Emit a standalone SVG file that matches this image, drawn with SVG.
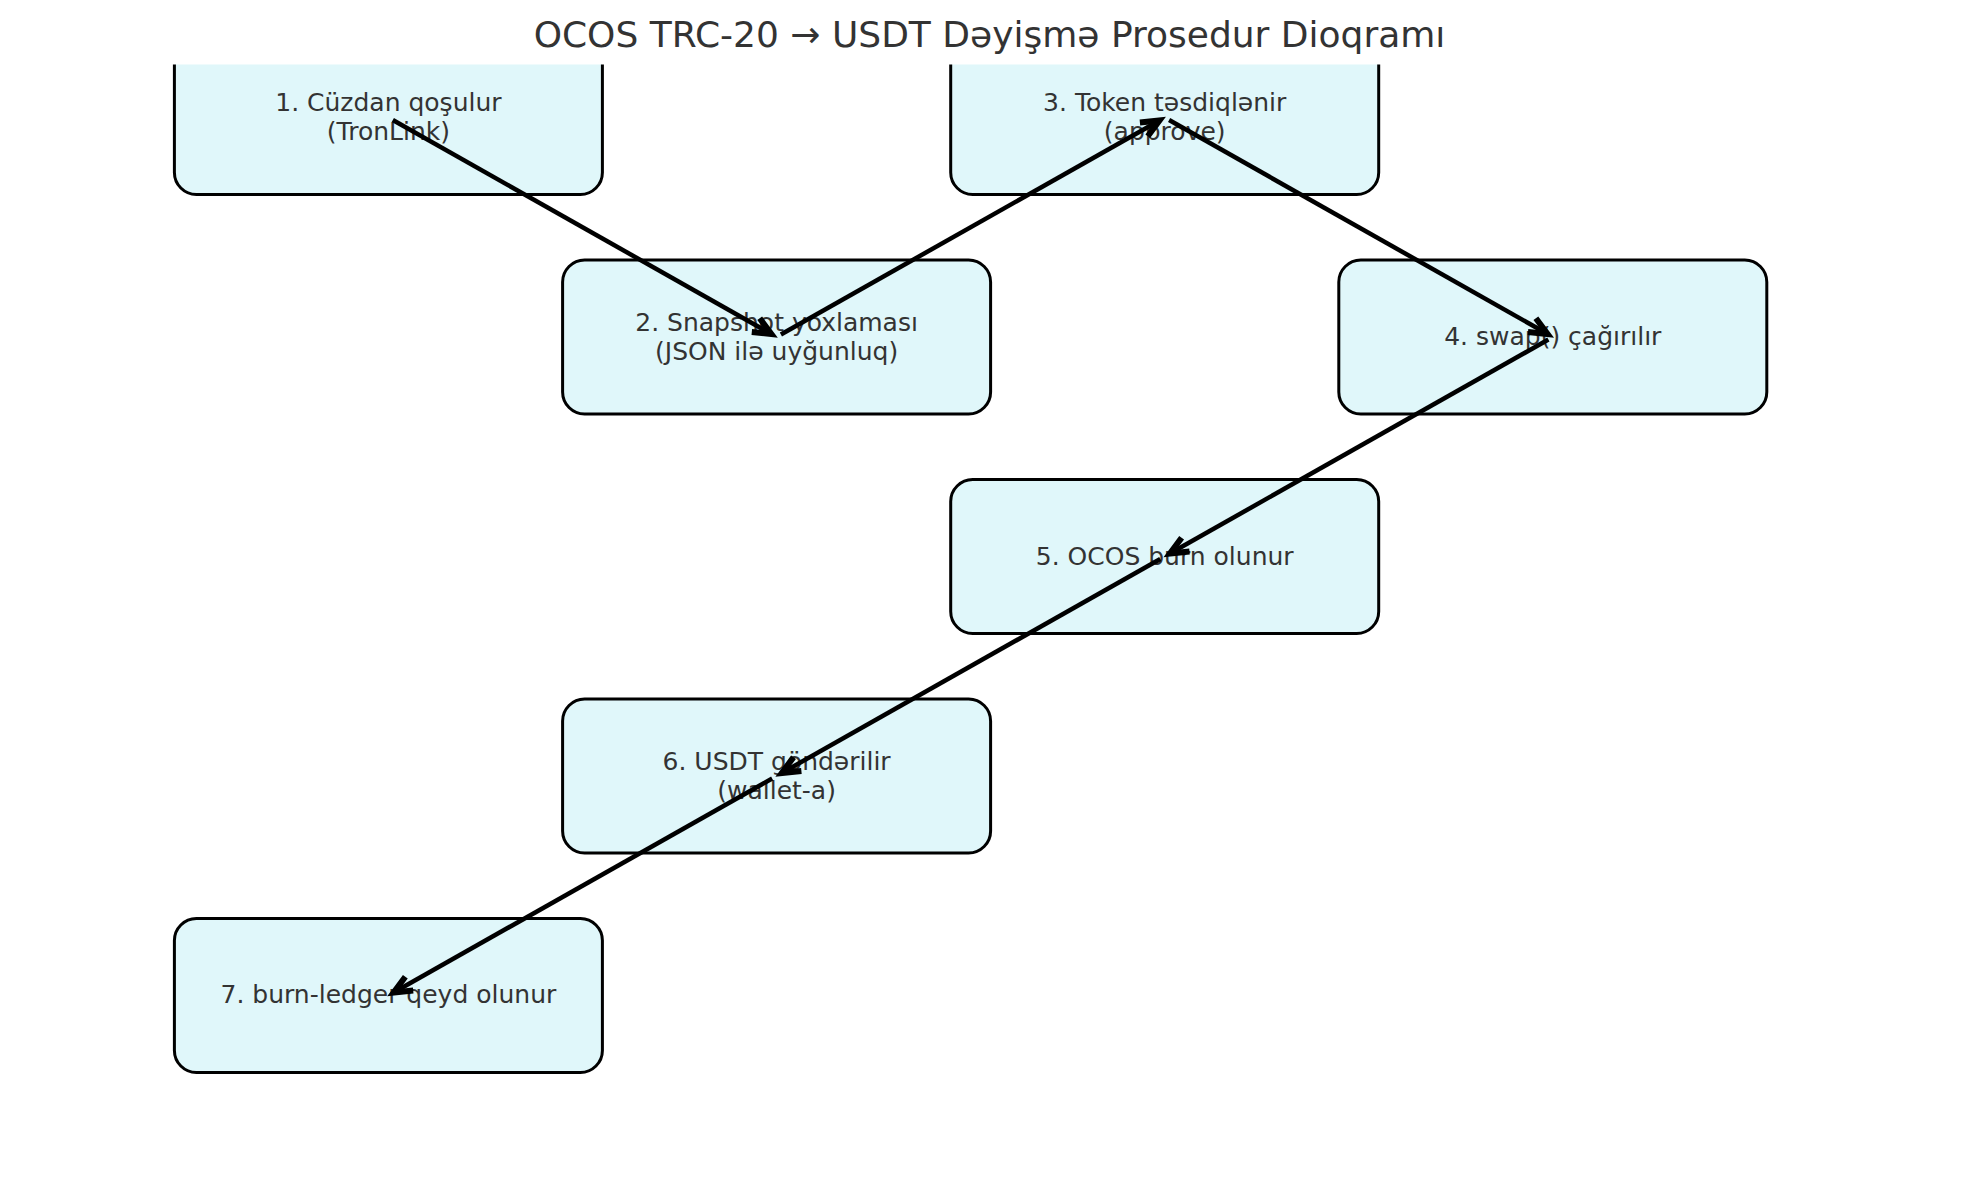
<svg xmlns="http://www.w3.org/2000/svg" width="1979" height="1180" viewBox="0 0 1979 1180">
<style>
.box{fill:#e0f7fa;stroke:#000;stroke-width:3}
.lbl{font-family:"DejaVu Sans","Noto Sans",sans-serif;font-size:25px;fill:#333;text-anchor:middle}
.title{font-family:"DejaVu Sans","Noto Sans",sans-serif;font-size:36px;fill:#333;text-anchor:middle}
.conn{stroke:#000;stroke-width:4.5;fill:none;marker-end:url(#ah)}
</style>
<defs>
<clipPath id="ax"><rect x="0" y="64.5" width="1979" height="1116"/></clipPath>
<marker id="ah" markerUnits="userSpaceOnUse" orient="auto" refX="0" refY="0" markerWidth="40" markerHeight="40" viewBox="-25 -15 30 30" overflow="visible">
<path d="M-13.5,-6 L0,0 L-13.5,6" fill="none" stroke="#000" stroke-width="4.5" stroke-linejoin="miter"/>
</marker>
</defs>
<rect width="1979" height="1180" fill="#fff"/>
<text class="title" x="989.5" y="47">OCOS TRC-20 → USDT Dəyişmə Prosedur Dioqramı</text>
<g clip-path="url(#ax)">
<g id="node1">
<rect class="box" x="174.4" y="40.5" width="428" height="154" rx="22"/>
<text class="lbl" x="388.4" y="111">1. Cüzdan qoşulur</text>
<text class="lbl" x="388.4" y="140">(TronLink)</text>
</g>
<g id="node2">
<rect class="box" x="562.6" y="260" width="428" height="154" rx="22"/>
<text class="lbl" x="776.6" y="330.5">2. Snapshot yoxlaması</text>
<text class="lbl" x="776.6" y="359.5">(JSON ilə uyğunluq)</text>
</g>
<g id="node3">
<rect class="box" x="950.7" y="40.5" width="428" height="154" rx="22"/>
<text class="lbl" x="1164.7" y="111">3. Token təsdiqlənir</text>
<text class="lbl" x="1164.7" y="140">(approve)</text>
</g>
<g id="node4">
<rect class="box" x="1338.8" y="260" width="428" height="154" rx="22"/>
<text class="lbl" x="1552.8" y="345">4. swap() çağırılır</text>
</g>
<g id="node5">
<rect class="box" x="950.7" y="479.5" width="428" height="154" rx="22"/>
<text class="lbl" x="1164.7" y="564.5">5. OCOS burn olunur</text>
</g>
<g id="node6">
<rect class="box" x="562.6" y="699" width="428" height="154" rx="22"/>
<text class="lbl" x="776.6" y="769.5">6. USDT göndərilir</text>
<text class="lbl" x="776.6" y="798.5">(wallet-a)</text>
</g>
<g id="node7">
<rect class="box" x="174.4" y="918.5" width="428" height="154" rx="22"/>
<text class="lbl" x="388.4" y="1002.5">7. burn-ledger qeyd olunur</text>
</g>
</g>
<g id="connectors">
<line class="conn" x1="392.8" y1="120" x2="771.4" y2="334"/>
<line class="conn" x1="780.9" y1="334.5" x2="1159.5" y2="120.5"/>
<line class="conn" x1="1169.1" y1="120" x2="1547.6" y2="334"/>
<line class="conn" x1="1548.4" y1="339.5" x2="1169.9" y2="553.5"/>
<line class="conn" x1="1160.3" y1="559" x2="781.8" y2="773"/>
<line class="conn" x1="772.2" y1="778.5" x2="393.6" y2="992.5"/>
</g>
</svg>
